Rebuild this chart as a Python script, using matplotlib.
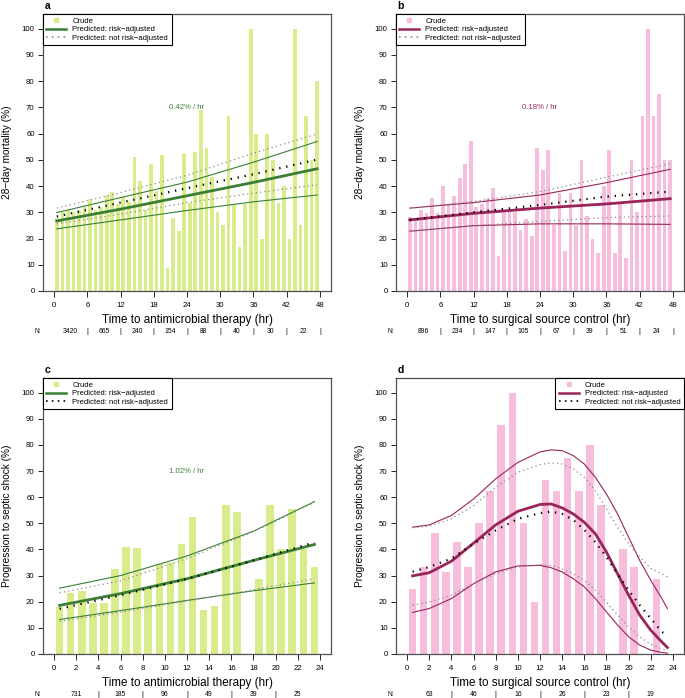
import matplotlib.pyplot as plt
from matplotlib.lines import Line2D
from matplotlib.transforms import blended_transform_factory

plt.rcParams['font.family'] = ['Liberation Sans', 'DejaVu Sans']

# ---- data ----
hours48 = [h + 0.5 for h in range(48)]
hours24 = [h + 0.5 for h in range(24)]

# panel a: 28-day mortality vs time to antimicrobial therapy
crude_a = [28, 30, 31, 30, 31, 32, 35, 31, 32, 36.5, 37.7, 33, 36, 34, 51, 42,
           31, 48.3, 38, 52, 8.7, 28, 23, 52.4, 33.4, 53, 69, 54.7, 43.6, 30, 25, 66.8,
           32.8, 16.6, 33.2, 100, 60, 20, 60, 50, 33.4, 40, 20, 100, 25, 66.8, 50, 80]
xa = [0.5, 12, 24, 36, 47.5]
adj_a = [26.7, 31.2, 36.3, 41.4, 46.6]
adj_a_lo = [23.7, 27.1, 30.7, 34.0, 36.6]
adj_a_hi = [29.9, 35.6, 41.5, 49.1, 57.0]
raw_a = [28.4, 33.7, 39.2, 44.5, 50.1]
raw_a_lo = [25.6, 29.3, 33.7, 37.3, 40.5]
raw_a_hi = [31.6, 37.5, 44.1, 52.5, 59.9]
n_a = [3420, 665, 240, 154, 88, 40, 30, 22]

# panel b: 28-day mortality vs time to surgical source control
crude_b = [28.4, 27, 31, 29.7, 35.6, 29.7, 40, 33.3, 36.4, 42.9, 48.3, 57.1, 32.1, 33.3,
           35.6, 39.1, 13.3, 30.3, 30, 30, 23.1, 27.3, 21, 54.5, 46.2, 53.8, 25, 37.5,
           15.4, 37.5, 25, 50, 28.6, 20, 14.3, 40, 53.8, 14.3, 33.3, 12.5, 50, 30,
           66.7, 100, 66.7, 75, 50, 50]
xb = [0.5, 12, 24, 36, 47.5]
adj_b = [27.1, 29.6, 31.6, 33.2, 35.2]
adj_b_lo = [22.8, 24.9, 25.6, 25.6, 25.4]
adj_b_hi = [31.6, 33.7, 36.6, 41.3, 46.4]
raw_b = [27.1, 30.0, 32.8, 36.0, 37.9]
raw_b_lo = [22.8, 24.9, 26.5, 28.0, 28.6]
raw_b_hi = [31.6, 34.1, 37.9, 43.4, 48.5]
n_b = [896, 234, 147, 105, 67, 39, 51, 24]

# panel c: progression to septic shock vs time to antimicrobial therapy
crude_c = [18, 23.5, 24, 19.4, 19.4, 32.7, 40.8, 40.6, 25, 34.5, 35, 42.1, 52.6, 16.7,
           18.2, 57.1, 54.5, 0, 28.6, 57.1, 40, 55.6, 40, 33.3]
xc = [0.5, 6, 12, 18, 23.5]
adj_c = [18.6, 23.1, 28.8, 35.8, 41.9]
adj_c_lo = [13.2, 16.6, 20.5, 24.2, 27.2]
adj_c_hi = [25.2, 30.0, 37.5, 47.0, 58.3]
raw_c = [17.3, 22.5, 28.7, 35.8, 42.7]
raw_c_lo = [12.5, 16.0, 20.3, 24.6, 28.8]
raw_c_hi = [23.4, 28.0, 36.5, 46.8, 58.0]
n_c = [731, 185, 96, 49, 39, 25]

# panel d: progression to septic shock vs time to surgical source control
crude_d = [25, 33.3, 46.2, 31.3, 42.9, 33.3, 50, 62.5, 87.5, 100, 50, 20, 66.7, 62.5,
           75, 62.5, 80, 57.1, 0, 40, 33.3, 0, 28.6, 0]
xd = [0.5, 2, 4, 6, 8, 10, 12, 13, 14, 15, 16, 17, 18, 19, 20, 21, 22, 23, 23.5]
adj_d = [29.9, 31.1, 35.5, 42.4, 49.4, 54.6, 57.2, 57.4, 55.9, 53.6, 50.4, 46.0,
         39.0, 30.7, 22.5, 14.9, 9.1, 4.6, 2.5]
adj_d_lo = [15.9, 17.4, 21.2, 26.9, 31.4, 33.7, 33.9, 33.0, 31.4, 28.8, 25.7, 21.2,
            16.1, 11.1, 6.6, 3.4, 1.5, 0.6, 0.3]
adj_d_hi = [48.5, 49.4, 53.0, 59.3, 67.0, 73.3, 77.3, 78.1, 77.8, 75.9, 72.7, 67.6,
            61.2, 53.6, 44.7, 35.8, 28.2, 21.2, 17.4]
raw_d = [31.5, 33.3, 36.5, 42.2, 47.3, 51.7, 53.9, 54.5, 53.6, 51.3, 47.5, 42.8,
         37.1, 30.7, 24.4, 18.7, 13.6, 8.5, 6.9]
raw_d_lo = [18.7, 19.9, 22.5, 26.9, 30.7, 33.3, 34.2, 33.9, 32.6, 30.7, 28.2, 24.4,
            19.9, 14.9, 10.4, 6.6, 3.7, 1.9, 1.3]
raw_d_hi = [48.3, 48.9, 51.7, 56.8, 63.8, 69.5, 72.5, 73.1, 72.7, 70.8, 67.6, 62.5,
            55.5, 48.5, 42.2, 37.1, 32.7, 30.7, 29.5]
n_d = [63, 46, 16, 26, 23, 19]

green_bar = '#d8ec8c'
green = '#3b7f34'
pink_bar = '#f6bddc'
plum = '#98245a'

W, H = 685, 698
fig = plt.figure(figsize=(W / 100, H / 100), dpi=100)


def px_axes(left, top, right, bottom):
    return fig.add_axes([left / W, 1 - bottom / H, (right - left) / W, (bottom - top) / H])


def panel(ax, letter, hrs, crude, x, adj, lo, hi, rx, raw, rlo, rhi, barc, linec,
          xmax, xstep, xlabel, ylabel, rate, ratex, nvals, nstep, last_bar,
          legend_loc, legend_dot):
    ax.bar(hrs, crude, width=0.68, color=barc, zorder=1)
    ax.plot(x, lo, color=linec, lw=0.8, zorder=3)
    ax.plot(x, hi, color=linec, lw=0.8, zorder=3)
    ax.plot(rx, rlo, color='#8a8a8a', lw=0.9, ls=(0, (1, 2.5)), zorder=3)
    ax.plot(rx, rhi, color='#8a8a8a', lw=0.9, ls=(0, (1, 2.5)), zorder=3)
    ax.plot(x, adj, color=linec, lw=2.0, zorder=4)
    ax.plot(rx, raw, color='black', lw=1.6, ls=(0, (0.6, 2.6)), zorder=5)

    pad = xmax / 24
    ax.set_xlim(-pad, xmax + pad)
    ax.set_ylim(0, 105.6)
    ax.set_xticks(range(0, xmax + 1, xstep))
    ax.set_yticks(range(0, 101, 10))
    ax.tick_params(labelsize=5.6, length=3.5, width=0.6, pad=2.5, colors='black')
    ax.tick_params(axis='x', length=4.5, pad=3.5)
    for s in ax.spines.values():
        s.set_color('#505050')
        s.set_linewidth(0.9)

    ax.set_xlabel(xlabel, fontsize=8.4)
    ax.xaxis.set_label_coords(0.5, -0.105)
    ax.xaxis.label.set_va('center')
    ax.set_ylabel(ylabel, fontsize=7.3)
    ax.yaxis.set_label_coords(-0.125, 0.5)
    ax.yaxis.label.set_va('center')

    ax.text(ratex, 70, rate, color=linec, fontsize=5.6, ha='center', va='center')
    ax.text(0.005, 1.012, letter, transform=ax.transAxes, fontsize=7.5, fontweight='bold',
            ha='left', va='bottom')

    tr = blended_transform_factory(ax.transData, ax.transAxes)
    ny = -0.148
    ax.text(-pad * 1.45, ny, 'N:', transform=tr, fontsize=4.9, ha='center', va='center')
    for i, n in enumerate(nvals):
        ax.text(nstep * i + nstep / 2, ny, str(n), transform=tr, fontsize=4.9,
                ha='center', va='center')
        if i < len(nvals) - 1 or last_bar:
            ax.text(nstep * (i + 1), ny, '|', transform=tr, fontsize=4.9,
                    ha='center', va='center')

    handles = [Line2D([], [], marker='s', ls='', color=barc, ms=3),
               Line2D([], [], color=linec, lw=1.8),
               Line2D([], [], color=legend_dot, lw=1.2, ls=(0, (1, 2.5)))]
    leg = ax.legend(handles, ['Crude', 'Predicted: risk\u2212adjusted',
                              'Predicted: not risk\u2212adjusted'],
                    loc=legend_loc, borderaxespad=0, fontsize=5.5, fancybox=False,
                    framealpha=1, edgecolor='black', handlelength=2.6,
                    labelspacing=0.15, borderpad=0.45, handletextpad=0.8)
    leg.get_frame().set_linewidth(0.8)


ax_a = px_axes(43, 14, 331, 291)
ax_b = px_axes(396, 14, 684, 291)
ax_c = px_axes(43, 378, 331, 654)
ax_d = px_axes(396, 378, 684, 654)

panel(ax_a, 'a', hours48, crude_a, xa, adj_a, adj_a_lo, adj_a_hi, xa, raw_a, raw_a_lo,
      raw_a_hi, green_bar, green, 48, 6, 'Time to antimicrobial therapy (hr)',
      '28\u2212day mortality (%)', '0.42% / hr', 24, n_a, 6, True, 'upper left', '#8a8a8a')
panel(ax_b, 'b', hours48, crude_b, xb, adj_b, adj_b_lo, adj_b_hi, xb, raw_b, raw_b_lo,
      raw_b_hi, pink_bar, plum, 48, 6, 'Time to surgical source control (hr)',
      '28\u2212day mortality (%)', '0.18% / hr', 24, n_b, 6, True, 'upper left', '#8a8a8a')
panel(ax_c, 'c', hours24, crude_c, xc, adj_c, adj_c_lo, adj_c_hi, xc, raw_c, raw_c_lo,
      raw_c_hi, green_bar, green, 24, 2, 'Time to antimicrobial therapy (hr)',
      'Progression to septic shock (%)', '1.02% / hr', 12, n_c, 4, False, 'upper left', 'black')
panel(ax_d, 'd', hours24, crude_d, xd, adj_d, adj_d_lo, adj_d_hi, xd, raw_d, raw_d_lo,
      raw_d_hi, pink_bar, plum, 24, 2, 'Time to surgical source control (hr)',
      'Progression to septic shock (%)', '', 12, n_d, 4, False, 'upper right', 'black')

fig.savefig('out.png', dpi=100)
